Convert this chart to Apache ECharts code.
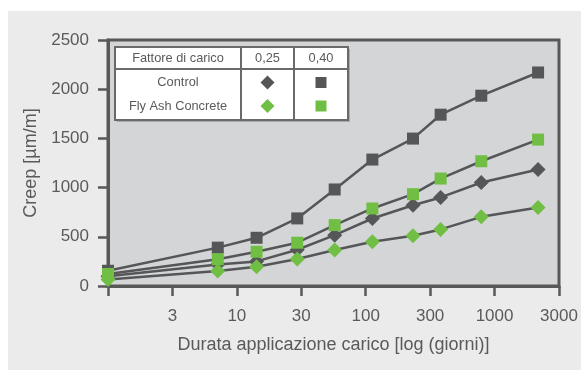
<!DOCTYPE html>
<html>
<head>
<meta charset="utf-8">
<script src="https://cdn.jsdelivr.net/npm/echarts@6/dist/echarts.min.js"></script>
<style>
  html, body { margin: 0; padding: 0; background: #ffffff; }
  #chart { width: 581px; height: 370px; }
</style>
</head>
<body>
<div id="chart"></div>
<script>
// Load duration in days (ages at which creep was measured)
const days = [1, 7, 14, 28, 56, 112, 224, 365, 780, 2100];

// Creep strain [µm/m] per mix and load factor
const control040 = [155, 390, 490, 687, 981, 1285, 1498, 1741, 1934, 2170];
const control025 = [100, 218, 250, 368, 517, 686, 821, 900, 1052, 1183];
const flyAsh040  = [122, 272, 348, 440, 619, 788, 933, 1092, 1268, 1488];
const flyAsh025  = [65, 152, 196, 274, 365, 449, 510, 575, 703, 798];

// Log-axis ticks, drawn evenly spaced
const tickDays   = [1, 3, 10, 30, 100, 300, 1000, 3000];
const tickLabels = ['', '3', '10', '30', '100', '300', '1000', '3000'];

// Map a day count onto the evenly spaced tick scale (log within each step)
function dayPos(d) {
  for (let i = 0; i < tickDays.length - 1; i++) {
    if (d <= tickDays[i + 1]) {
      return i + Math.log(d / tickDays[i]) / Math.log(tickDays[i + 1] / tickDays[i]);
    }
  }
  return tickDays.length - 1;
}

function pairs(vals) {
  return days.map((d, i) => [dayPos(d), vals[i]]);
}

const DARK = '#555657';
const GREEN = '#70bf44';
const TEXT = '#5a5a5a';
const FONT = 'Liberation Sans, Arial, sans-serif';

function lineSeries(name, vals, symbol, size, color) {
  return {
    name: name,
    type: 'line',
    data: pairs(vals),
    symbol: symbol,
    symbolSize: size,
    showSymbol: true,
    lineStyle: { color: DARK, width: 2.5 },
    itemStyle: { color: color },
    emphasis: { disabled: true },
    z: 3
  };
}

// Legend table geometry
const tX = 115, tY = 47, tW = 233, tH = 73;
const col1 = 241, col2 = 294, hdrB = 69;
const tableStroke = { stroke: '#6a6a6a', lineWidth: 2 };

function diamond(cx, cy, r, fill) {
  return {
    type: 'polygon',
    shape: { points: [[cx, cy - r], [cx + r, cy], [cx, cy + r], [cx - r, cy]] },
    style: { fill: fill },
    z: 20
  };
}
function square(cx, cy, s, fill) {
  return {
    type: 'rect',
    shape: { x: cx - s / 2, y: cy - s / 2, width: s, height: s },
    style: { fill: fill },
    z: 20
  };
}
function txt(x, y, t) {
  return {
    type: 'text', x: x, y: y, z: 20,
    style: { text: t, fill: TEXT, font: '12.8px ' + FONT, align: 'center', verticalAlign: 'middle' }
  };
}

const chart = echarts.init(document.getElementById('chart'), null, { renderer: 'canvas' });

chart.setOption({
  animation: false,
  backgroundColor: '#ffffff',
  grid: {
    left: 108, top: 40, right: 22, bottom: 84,
    show: true,
    backgroundColor: '#d4d5d7',
    borderColor: '#585858',
    borderWidth: 3
  },
  xAxis: {
    type: 'value',
    min: 0, max: 7, interval: 1,
    name: 'Durata applicazione carico [log (giorni)]',
    nameLocation: 'middle',
    nameGap: 50,
    nameTextStyle: { color: TEXT, fontSize: 18, fontFamily: FONT },
    axisLine: { show: true, lineStyle: { color: '#585858', width: 3 } },
    axisTick: { show: true, inside: false, length: 10, lineStyle: { color: '#585858', width: 2.5 } },
    axisLabel: {
      color: TEXT, fontSize: 17, fontFamily: FONT, margin: 22,
      formatter: v => tickLabels[Math.round(v)] || ''
    },
    splitLine: { show: false }
  },
  yAxis: {
    type: 'value',
    min: 0, max: 2500, interval: 500,
    name: 'Creep [µm/m]',
    nameLocation: 'middle',
    nameGap: 66,
    nameRotate: 90,
    nameTextStyle: { color: TEXT, fontSize: 18, fontFamily: FONT },
    axisLine: { show: true, lineStyle: { color: '#585858', width: 3 } },
    axisTick: { show: true, inside: false, length: 10, lineStyle: { color: '#585858', width: 2.5 } },
    axisLabel: { color: TEXT, fontSize: 17, fontFamily: FONT, margin: 19, formatter: v => String(v) },
    splitLine: { show: false }
  },
  series: [
    lineSeries('Control 0,40', control040, 'rect', 12, DARK),
    lineSeries('Control 0,25', control025, 'diamond', [15, 15], DARK),
    lineSeries('Fly Ash Concrete 0,40', flyAsh040, 'rect', 12, GREEN),
    lineSeries('Fly Ash Concrete 0,25', flyAsh025, 'diamond', [15, 15], GREEN)
  ],
  graphic: [
    // outer panel
    {
      type: 'rect', z: -10, silent: true,
      shape: { x: 8, y: 11, width: 581, height: 370 },
      style: { fill: '#ebebeb' }
    },
    // legend table
    {
      type: 'rect', z: 18,
      shape: { x: tX + 2, y: tY + 2, width: tW, height: tH },
      style: { fill: '#a9aaac' }
    },
    {
      type: 'rect', z: 19,
      shape: { x: tX, y: tY, width: tW, height: tH },
      style: Object.assign({ fill: '#ffffff' }, tableStroke)
    },
    { type: 'line', z: 19, shape: { x1: tX, y1: hdrB, x2: tX + tW, y2: hdrB }, style: tableStroke },
    { type: 'line', z: 19, shape: { x1: col1, y1: tY, x2: col1, y2: tY + tH }, style: tableStroke },
    { type: 'line', z: 19, shape: { x1: col2, y1: tY, x2: col2, y2: tY + tH }, style: tableStroke },
    txt((tX + col1) / 2, 58, 'Fattore di carico'),
    txt((col1 + col2) / 2, 58, '0,25'),
    txt((col2 + tX + tW) / 2, 58, '0,40'),
    txt((tX + col1) / 2, 82.5, 'Control'),
    txt((tX + col1) / 2, 106, 'Fly Ash Concrete'),
    diamond((col1 + col2) / 2, 82.5, 7, DARK),
    diamond((col1 + col2) / 2, 106, 7, GREEN),
    square((col2 + tX + tW) / 2, 82.5, 11, DARK),
    square((col2 + tX + tW) / 2, 106, 11, GREEN)
  ]
});
</script>
</body>
</html>
